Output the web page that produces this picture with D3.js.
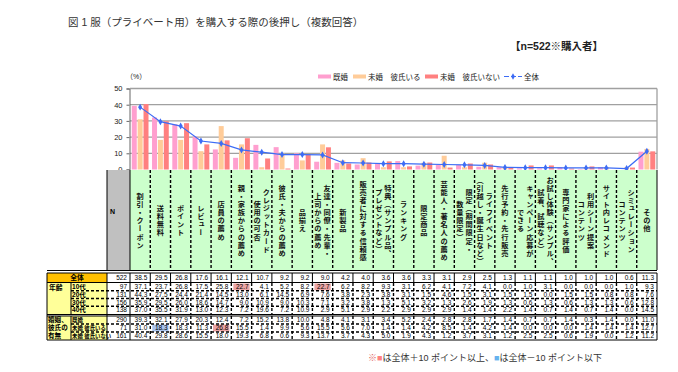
<!DOCTYPE html>
<html>
<head>
<meta charset="utf-8">
<script src="https://cdn.jsdelivr.net/npm/d3@7"></script>
<style>
body { margin: 0; background: #fff; }
svg { font-family: "Liberation Sans", "Noto Sans CJK JP", sans-serif; }
</style>
</head>
<body>
<div id="chart"></div>
<script>
// category labels, one entry per column, lines read right to left (vertical-rl)
const categories = [
    ["割引・クーポン"], ["送料無料"], ["ポイント"], ["レビュー"], ["店員の薦め"],
    ["親・家族からの薦め"], ["クレジットカード", "使用の可否"], ["彼氏・夫からの薦め"], ["品揃え"],
    ["友達・同僚・先輩・", "上司からの薦め"], ["新製品"], ["販売者に対する信頼感"],
    ["特典（サンプル品、", "プレゼントなど）"], ["ランキング"], ["限定商品"], ["芸能人・著名人の薦め"],
    ["限定（期間限定・", "数量限定）"], ["ライフイベント", "（引越し・誕生日など）"], ["先行予約・先行販売"],
    ["キャンペーン応募が", "できる"], ["お試し体験（サンプル、", "試着、試聴など）"], ["専門家による評価"],
    ["利用シーン提案", "コンテンツ"], ["サイト内レコメンド"], ["シミュレーション", "コンテンツ"], ["その他"]
];
const overall = [38.5, 29.5, 26.8, 17.6, 16.1, 12.1, 10.7, 9.2, 9.2, 9.0, 4.2, 4.0, 3.6, 3.6, 3.3, 3.1, 2.9, 2.5, 1.3, 1.1, 1.1, 1.0, 1.0, 1.0, 0.6, 11.3];
const age10 = [37.1, 23.7, 26.8, 17.5, 25.8, 22.7, 4.1, 5.2, 8.2, 22.7, 6.2, 8.2, 9.3, 3.1, 6.2, 4.1, 7.2, 4.1, 0.0, 1.0, 3.1, 0.0, 0.0, 0.0, 1.0, 9.3];
const age20 = [44.3, 27.5, 24.4, 21.4, 14.5, 13.0, 6.1, 14.5, 6.9, 7.6, 3.8, 2.3, 3.8, 3.1, 1.5, 4.6, 1.5, 3.1, 1.5, 1.5, 0.0, 1.5, 1.5, 0.8, 0.8, 7.6];
const age30 = [35.9, 29.5, 26.0, 18.6, 14.7, 9.0, 10.9, 9.0, 10.3, 7.1, 3.2, 3.8, 1.3, 5.1, 3.2, 1.3, 2.6, 1.9, 1.3, 0.6, 1.3, 0.6, 1.3, 1.3, 0.6, 12.8];
const age40 = [37.0, 35.5, 31.9, 13.0, 12.3, 7.2, 19.6, 7.2, 10.9, 2.9, 5.1, 2.9, 2.2, 2.9, 2.9, 2.9, 1.4, 1.4, 2.2, 1.4, 0.7, 1.4, 0.7, 1.4, 0.0, 14.5];
const married = [39.3, 32.1, 27.9, 20.3, 12.4, 7.2, 15.2, 13.8, 10.0, 4.8, 4.1, 3.1, 3.4, 5.2, 2.4, 2.8, 2.8, 1.7, 1.4, 0.7, 0.7, 1.4, 0.3, 1.4, 0.0, 11.0];
const singleWith = [31.0, 18.3, 18.3, 11.3, 26.8, 15.5, 1.4, 9.9, 5.6, 15.5, 5.6, 7.0, 1.4, 1.4, 4.2, 8.5, 1.4, 4.2, 1.4, 0.0, 0.0, 0.0, 1.4, 1.4, 1.4, 12.7];
const singleWithout = [40.4, 29.8, 28.6, 15.5, 18.0, 19.3, 6.8, 0.6, 9.3, 13.7, 3.7, 4.3, 5.0, 1.9, 4.3, 1.2, 3.7, 3.1, 1.2, 2.5, 2.5, 0.6, 1.9, 0.0, 1.2, 11.2];
const totalN = 522;
const ageLabels = ["10代", "20代", "30代", "40代"];
const ageN = [97, 131, 156, 138];
const statusLabels = ["既婚", "未婚 彼氏いる", "未婚 彼氏いない"];
const statusN = [290, 71, 161];
const seriesNames = ["既婚", "未婚　彼氏いる", "未婚　彼氏いない"];
const yTicks = [0, 10, 20, 30, 40, 50];

const W = 678, H = 372;
const colors = ["#ff9fcf", "#ffcc99", "#ff8080"];
const lineColor = "#3d6cf5";

const svg = d3.select("#chart").append("svg")
    .attr("width", W)
    .attr("height", H);

// titles
svg.append("text")
    .attr("x", 68).attr("y", 26)
    .attr("font-size", "10.5px").attr("fill", "#333")
    .text("図 1  服（プライベート用）を購入する際の後押し（複数回答）");
svg.append("text")
    .attr("x", 510).attr("y", 50)
    .attr("font-size", "10.5px").attr("font-weight", "bold").attr("fill", "#222")
    .text("【n=522※購入者】");

// scales
const x = d3.scaleBand().domain(d3.range(categories.length)).range([130, 657]);
const xInner = d3.scaleBand().domain([0, 1, 2]).range([0, x.bandwidth()]).paddingInner(0.15).paddingOuter(0.3);
const y = d3.scaleLinear().domain([0, 50]).range([169.5, 88.5]);

// grid + frame
svg.append("g").selectAll("line")
    .data(yTicks.slice(1))
    .enter().append("line")
    .attr("x1", 130).attr("x2", 657)
    .attr("y1", d => y(d)).attr("y2", d => y(d))
    .attr("stroke", "#a0a0a0").attr("stroke-width", 1.3);
svg.append("line")
    .attr("x1", 657).attr("x2", 657).attr("y1", y(50)).attr("y2", y(0))
    .attr("stroke", "#a0a0a0").attr("stroke-width", 1.3);

const yAxis = d3.axisLeft(y).tickValues(yTicks).tickSize(3).tickPadding(4);
const gy = svg.append("g")
    .attr("transform", "translate(129.5,0)")
    .call(yAxis);
gy.select(".domain").attr("stroke", "#666");
gy.selectAll(".tick line").attr("stroke", "#666");
gy.selectAll("text").attr("font-size", "7.5px").attr("fill", "#222")
    .attr("font-family", "Liberation Sans, sans-serif");
svg.append("text")
    .attr("x", 126).attr("y", 79)
    .attr("font-size", "7px").attr("fill", "#222")
    .text("（%）");

// bars
const seriesData = [married, singleWith, singleWithout];
seriesData.forEach((vals, s) => {
    svg.append("g").selectAll("rect")
        .data(vals)
        .enter().append("rect")
        .attr("x", (d, i) => x(i) + xInner(s))
        .attr("width", xInner.bandwidth())
        .attr("y", d => y(d))
        .attr("height", d => y(0) - y(d))
        .attr("fill", colors[s]);
});

// overall line
const line = d3.line()
    .x((d, i) => x(i) + x.bandwidth() / 2)
    .y(d => y(d));
svg.append("path")
    .datum(overall)
    .attr("d", line)
    .attr("fill", "none")
    .attr("stroke", lineColor)
    .attr("stroke-width", 1.2);
svg.append("g").selectAll("path")
    .data(overall)
    .enter().append("path")
    .attr("d", d3.symbol().type(d3.symbolDiamond).size(14))
    .attr("transform", (d, i) => "translate(" + (x(i) + x.bandwidth() / 2) + "," + y(d) + ")")
    .attr("fill", lineColor);

// legend
const legendX = [318, 353, 425];
seriesNames.forEach((name, s) => {
    svg.append("rect")
        .attr("x", legendX[s]).attr("y", 74.5)
        .attr("width", 13).attr("height", 4)
        .attr("fill", colors[s]);
    svg.append("text")
        .attr("x", legendX[s] + 15).attr("y", 79.5)
        .attr("font-size", "7.5px").attr("fill", "#222")
        .text(name);
});
svg.append("line")
    .attr("x1", 504).attr("x2", 522).attr("y1", 76.5).attr("y2", 76.5)
    .attr("stroke", lineColor).attr("stroke-width", 1.2).attr("stroke-dasharray", "5,2");
svg.append("path")
    .attr("d", d3.symbol().type(d3.symbolDiamond).size(12))
    .attr("transform", "translate(513,76.5)")
    .attr("fill", lineColor);
svg.append("text")
    .attr("x", 524).attr("y", 79.5)
    .attr("font-size", "7.5px").attr("fill", "#222")
    .text("全体");

// ---------- table ----------
const headTop = 170, headBot = 270;
const table = svg.append("g");

// header cells
table.append("rect")
    .attr("x", 107).attr("y", headTop).attr("width", 23).attr("height", headBot - headTop)
    .attr("fill", "#c0c0c0");
table.append("text")
    .attr("x", 110).attr("y", 214)
    .attr("font-size", "7px").attr("font-weight", "bold")
    .text("N");
table.append("g").selectAll("rect")
    .data(categories)
    .enter().append("rect")
    .attr("x", (d, i) => x(i)).attr("y", headTop)
    .attr("width", x.bandwidth()).attr("height", headBot - headTop)
    .attr("fill", "#ccffcc");

categories.forEach((lines, i) => {
    const cx = x(i) + x.bandwidth() / 2;
    lines.forEach((t, j) => {
        const off = lines.length === 1 ? 0 : (j === 0 ? 4.6 : -4.6);
        table.append("text")
            .attr("x", cx + off).attr("y", 221)
            .attr("text-anchor", "middle")
            .attr("dominant-baseline", "central")
            .style("writing-mode", "vertical-rl")
            .attr("font-family", "Noto Sans CJK JP, sans-serif")
            .attr("font-size", "7.2px").attr("font-weight", "bold")
            .attr("letter-spacing", "0.95px")
            .attr("fill", "#111")
            .text(t);
    });
});

// rows: built from the arrays above
const rows = [];
rows.push({ label: "全体", n: totalN, vals: overall, y0: 273, h: 9, kind: "total" });
ageLabels.forEach((l, i) => rows.push({ label: l, n: ageN[i], vals: [age10, age20, age30, age40][i], y0: 283 + i * 7.75, h: 7.75, kind: "age" }));
statusLabels.forEach((l, i) => rows.push({ label: l, n: statusN[i], vals: [married, singleWith, singleWithout][i], y0: 316 + i * 8, h: 8, kind: "status" }));

// label fills
table.append("rect").attr("x", 47).attr("y", 273).attr("width", 60).attr("height", 9).attr("fill", "#ffc000");
table.append("rect").attr("x", 47).attr("y", 283).attr("width", 60).attr("height", 31).attr("fill", "#ffff99");
table.append("rect").attr("x", 47).attr("y", 316).attr("width", 60).attr("height", 24).attr("fill", "#ffff99");

// highlight cells (+10 / -10 points vs overall)
rows.filter(r => r.kind !== "total").forEach(r => {
    r.vals.forEach((v, i) => {
        const diff = v - overall[i];
        if (diff >= 10 || diff <= -10) {
            table.append("rect")
                .attr("x", x(i) + 2).attr("y", r.y0 + 0.5)
                .attr("width", x.bandwidth() - 4).attr("height", r.h - 1)
                .attr("fill", diff >= 10 ? "#eba3a3" : "#a9c4ee");
        }
    });
});

// text
const numFmt = d3.format(".1f");
rows.forEach(r => {
    const ty = r.y0 + r.h - 1.6;
    if (r.kind === "total") {
        table.append("text").attr("x", 77).attr("y", ty)
            .attr("text-anchor", "middle").attr("font-size", "6.8px").attr("font-weight", "bold")
            .text(r.label);
    } else {
        table.append("text").attr("x", 72).attr("y", ty)
            .attr("font-size", r.kind === "status" ? "5.4px" : "6.6px").attr("font-weight", "bold")
            .text(r.label);
    }
    table.append("text").attr("x", 127).attr("y", ty)
        .attr("text-anchor", "end").attr("font-size", "6.5px")
        .text(r.n);
    table.append("g").selectAll("text")
        .data(r.vals)
        .enter().append("text")
        .attr("x", (d, i) => x(i) + x.bandwidth() - 3)
        .attr("y", ty)
        .attr("text-anchor", "end")
        .attr("font-size", "6.5px")
        .text(d => numFmt(d));
});
table.append("text").attr("x", 49).attr("y", 289.5)
    .attr("font-size", "6.8px").attr("font-weight", "bold").text("年齢");
["婚姻、", "彼氏の", "有無"].forEach((t, i) => {
    table.append("text").attr("x", 48).attr("y", 322 + i * 8)
        .attr("font-size", "6.6px").attr("font-weight", "bold").text(t);
});

// grid lines of the table
const solid = (x1, y1, x2, y2, w) => table.append("line")
    .attr("x1", x1).attr("y1", y1).attr("x2", x2).attr("y2", y2)
    .attr("stroke", "#000").attr("stroke-width", w || 1);
const dashed = (x1, y1, x2, y2) => table.append("line")
    .attr("x1", x1).attr("y1", y1).attr("x2", x2).attr("y2", y2)
    .attr("stroke", "#000").attr("stroke-width", 1.4).attr("stroke-dasharray", "3,2");

// vertical separators between category columns
d3.range(1, categories.length).forEach(i => {
    dashed(x(i), headTop, x(i), headBot);
    solid(x(i), 273, x(i), 282);
    dashed(x(i), 283, x(i), 314);
    dashed(x(i), 316, x(i), 340);
});
[107, 130, 657].forEach(px => {
    solid(px, headTop, px, headBot);
    solid(px, 273, px, 340);
});
solid(47, 273, 47, 340);
solid(71, 283, 71, 314);
solid(71, 316, 71, 340);
solid(47, 270.5, 657, 270.5, 1.2);
solid(47, 273, 657, 273);
solid(47, 282.5, 657, 282.5);
solid(47, 314.5, 657, 314.5);
solid(47, 316, 657, 316);
solid(47, 340, 657, 340);
[1, 2, 3].forEach(i => dashed(71, 283 + i * 7.75, 657, 283 + i * 7.75));
[1, 2].forEach(i => dashed(71, 316 + i * 8, 657, 316 + i * 8));

// footnote
const note = svg.append("text")
    .attr("x", 368).attr("y", 361)
    .attr("font-size", "9px").attr("fill", "#333");
note.append("tspan").attr("fill", "#e06666").text("※");
note.append("tspan").attr("fill", "#ff8080").text("■");
note.append("tspan").text("は全体＋10 ポイント以上、");
note.append("tspan").attr("fill", "#66b2ee").text("■");
note.append("tspan").text("は全体－10 ポイント以下");
</script>
</body>
</html>
